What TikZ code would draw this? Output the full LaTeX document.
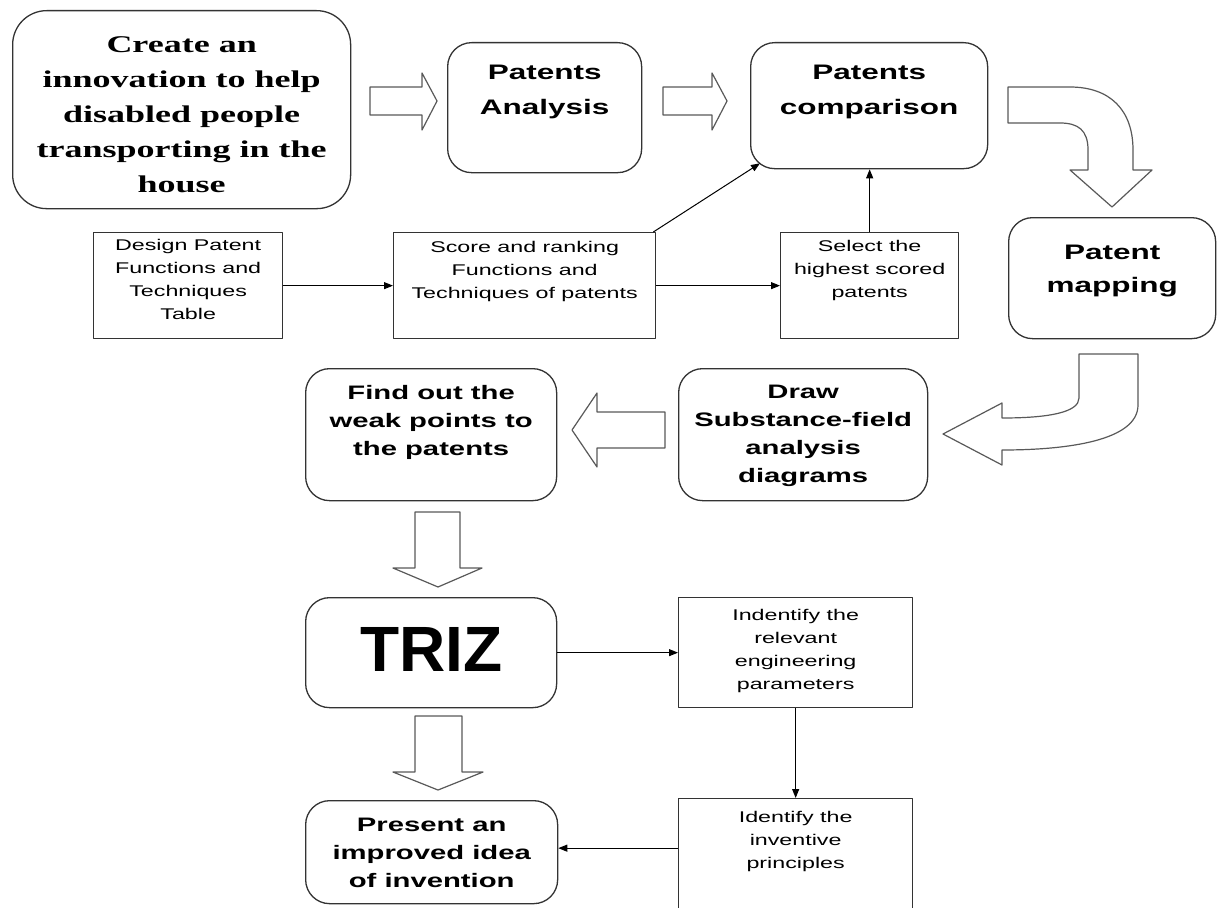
\documentclass[tikz,border=0pt]{standalone}
\usepackage{fontspec}
\setmainfont{Liberation Sans}
\newfontfamily\widesans[FakeStretch=1.5]{Liberation Sans}
\newfontfamily\wideserif[FakeStretch=1.5]{Liberation Serif}
\usetikzlibrary{arrows.meta,positioning}

\begin{document}
\begin{tikzpicture}[x=1pt,y=-1pt,line join=round,
  box/.style={draw=black!80,line width=1.3pt,anchor=north west,inner sep=0pt},
  rbox/.style={box,rounded corners=24pt},
  txt/.style={align=center,inner sep=0pt,anchor=north},
  bigtxt/.style={txt,font=\widesans\bfseries\fontsize{21}{35}\selectfont},
  midtxt/.style={txt,font=\widesans\bfseries\fontsize{19.5}{28}\selectfont},
  smalltxt/.style={txt,font=\widesans\fontsize{15.5}{23}\selectfont},
  fatarrow/.style={draw=black!65,line width=1.2pt,fill=white},
  every edge/.style={draw,line width=1pt,-{Triangle[length=9pt,width=7pt]}}
]
\useasboundingbox (0,0) rectangle (1217,907);

% boxes
\node[rbox,rounded corners=34pt,minimum width=338pt,minimum height=198pt] (create) at (12,10) {};
\node[rbox,minimum width=194pt,minimum height=130pt] (pa) at (447,42) {};
\node[rbox,minimum width=237pt,minimum height=126pt] (pc) at (750,42) {};
\node[rbox,minimum width=207pt,minimum height=121pt] (pm) at (1008,217) {};
\node[box,minimum width=189pt,minimum height=106pt] (dp) at (93,232) {};
\node[box,minimum width=262pt,minimum height=106pt] (sr) at (393,232) {};
\node[box,minimum width=178pt,minimum height=106pt] (sl) at (780,232) {};
\node[rbox,minimum width=251pt,minimum height=132pt] (fw) at (305,368) {};
\node[rbox,minimum width=249pt,minimum height=132pt] (ds) at (678,368) {};
\node[rbox,minimum width=251pt,minimum height=110pt] (tz) at (305,597) {};
\node[box,minimum width=234pt,minimum height=110pt] (ie) at (678,597) {};
\node[rbox,minimum width=252pt,minimum height=103pt] (pr) at (305,800) {};
\node[box,minimum width=234pt,minimum height=130pt] (ip) at (678,798) {};

% texts
\node[txt,font=\wideserif\bfseries\fontsize{24}{35}\selectfont,below=26pt of create.north] (create-t)
  {Create an\\innovation to help\\disabled people\\transporting in the\\house};
\node[bigtxt,below=23pt of pa.north] (pa-t) {Patents\\Analysis};
\node[bigtxt,below=23pt of pc.north] (pc-t) {Patents\\comparison};
\node[bigtxt,below=28pt of pm.north,font=\widesans\bfseries\fontsize{21}{33}\selectfont] (pm-t) {Patent\\mapping};
\node[smalltxt,below=7pt of dp.north] (dp-t) {Design Patent\\Functions and\\Techniques\\Table};
\node[smalltxt,below=9pt of sr.north] (sr-t) {Score and ranking\\Functions and\\Techniques of patents};
\node[smalltxt,below=8pt of sl.north] (sl-t) {Select the\\highest scored\\patents};
\node[midtxt,below=17pt of fw.north] (fw-t) {Find out the\\weak points to\\the patents};
\node[midtxt,below=17pt of ds.north] (ds-t) {Draw\\Substance-field\\analysis\\diagrams};
\node[txt,font=\bfseries\fontsize{64}{70}\selectfont,below=30pt of tz.north] (tz-t) {TRIZ};
\node[smalltxt,below=12pt of ie.north] (ie-t) {Indentify the\\relevant\\engineering\\parameters};
\node[midtxt,below=18pt of pr.north] (pr-t) {Present an\\improved idea\\of invention};
\node[smalltxt,below=13pt of ip.north] (ip-t) {Identify the\\inventive\\principles};

% thin arrows
\draw (dp) edge (sr);
\draw (sr) edge (sl);
\draw ([xshift=-3pt]sr.north east) edge ([xshift=10pt,yshift=6pt]pc.south west);
\draw (sl.north) edge (sl.north |- pc.south);
\draw (tz) edge (ie);
\draw (ie) edge (ip);
\draw ([yshift=4pt]ip.west |- pr.east) edge ([yshift=4pt]pr.east);

% block arrows
\draw[fatarrow] (370,87) -- (422,87) -- (422,73) -- (437,101) -- (422,130) -- (422,115) -- (370,115) -- cycle;
\draw[fatarrow] (663,87) -- (712,87) -- (712,73) -- (727,101) -- (712,130) -- (712,115) -- (663,115) -- cycle;
\draw[fatarrow] (1008,87) -- (1070,87) .. controls (1110,87) and (1133,110) .. (1133,150)
  -- (1133,170) -- (1152,170) -- (1112,207) -- (1070,170) -- (1088,170) -- (1088,150)
  .. controls (1088,130) and (1078,123) .. (1060,123) -- (1008,123) -- cycle;
\draw[fatarrow] (1079,354) -- (1138,354) -- (1138,405) .. controls (1138,440) and (1070,450) .. (1002,450)
  -- (1002,465) -- (943,434) -- (1002,403) -- (1002,418)
  .. controls (1050,418) and (1079,412) .. (1079,398) -- cycle;
\draw[fatarrow] (665,412) -- (597,412) -- (597,393) -- (572,430) -- (597,467) -- (597,448) -- (665,448) -- cycle;
\draw[fatarrow] (415,512) -- (415,568) -- (393,568) -- (438,587) -- (482,568) -- (460,568) -- (460,512) -- cycle;
\draw[fatarrow] (415,716) -- (415,772) -- (393,772) -- (438,790) -- (483,772) -- (462,772) -- (462,716) -- cycle;
\end{tikzpicture}
\end{document}
